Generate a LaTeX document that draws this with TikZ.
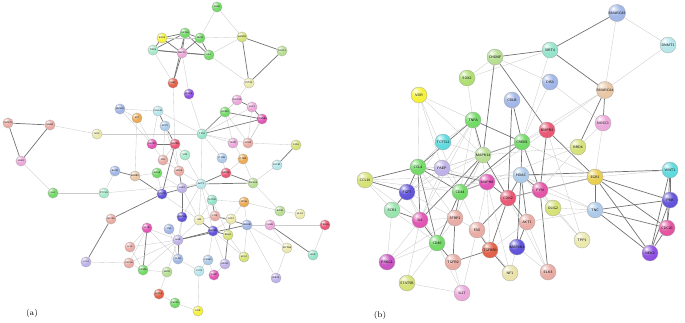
\documentclass[tikz,border=0pt]{standalone}
\usepackage{tikz}
\usetikzlibrary{backgrounds}
\usepackage{xcolor}

\definecolor{cBl}{HTML}{9DB3E6}
\definecolor{cLb}{HTML}{A9C8E8}
\definecolor{cTl}{HTML}{8FE3C8}
\definecolor{cGr}{HTML}{6CD860}
\definecolor{cLg}{HTML}{B4DC8E}
\definecolor{cYl}{HTML}{F4F030}
\definecolor{cYg}{HTML}{D4E070}
\definecolor{cPk}{HTML}{EAA4D8}
\definecolor{cMg}{HTML}{E04CB0}
\definecolor{cRd}{HTML}{E8506E}
\definecolor{cSa}{HTML}{E8A8A0}
\definecolor{cOr}{HTML}{EBA64C}
\definecolor{cTn}{HTML}{E8C4A0}
\definecolor{cPu}{HTML}{8A48E0}
\definecolor{cVb}{HTML}{5A4CD8}
\definecolor{cLv}{HTML}{BCAEE8}
\definecolor{cCy}{HTML}{58D8DC}
\definecolor{cLc}{HTML}{B4E6EA}
\definecolor{cLy}{HTML}{EAE8A8}
\definecolor{cRo}{HTML}{E05A40}
\definecolor{cMt}{HTML}{A4E8C8}
\definecolor{cGo}{HTML}{E8CC48}
\colorlet{ballc}{gray}

% glossy sphere for the protein nodes
\pgfdeclareradialshading[ballc]{glass}{\pgfpoint{-12bp}{14bp}}{%
  color(0bp)=(white); color(6bp)=(ballc!40!white); color(18bp)=(ballc!92!white);
  color(38bp)=(ballc); color(56bp)=(ballc!82!black); color(75bp)=(ballc!65!black)}

\begin{document}
\begin{tikzpicture}[
    x=0.03cm, y=-0.03cm,
    ga/.style={circle, draw=gray!70, line width=0.2pt, /utils/exec={\colorlet{ballc}{#1}}, shading=glass, minimum size=0.31cm, inner sep=0pt, font=\fontsize{2}{2}\selectfont\sffamily},
    gb/.style={circle, draw=gray!70, line width=0.25pt, /utils/exec={\colorlet{ballc}{#1}}, shading=glass, minimum size=0.48cm, inner sep=0pt, font=\fontsize{3}{3}\selectfont\sffamily},
    wk/.style={draw=gray!40, line width=0.3pt},
    md/.style={draw=black!55, line width=0.6pt},
    tag/.style={font=\fontsize{7}{8}\selectfont}
]
\useasboundingbox (0,0) rectangle (685,322);

% Network (a)
\node[ga=cGr] (pax6) at (217,7) {PAX6};
\node[ga=cYl] (sox9) at (162,38) {SOX9};
\node[ga=cGr] (gata4) at (185,33) {GATA4};
\node[ga=cGr] (nkx2) at (200,38) {NKX2};
\node[ga=cYg] (hand2) at (242,37) {HAND2};
\node[ga=cMt] (tbx5) at (153,50) {TBX5};
\node[ga=cPk] (mef2c) at (182,53) {MEF2C};
\node[ga=cGr] (isl1) at (209,55) {ISL1};
\node[ga=cLg] (foxc1) at (282,51) {FOXC1};
\node[ga=cRo] (shh) at (173,83) {SHH};
\node[ga=cLy] (pitx2) at (249,83) {PITX2};
\node[ga=cPu] (bmp4) at (189,94) {BMP4};
\node[ga=cPk] (wnt3a) at (237,100) {WNT3A};
\node[ga=cPk] (lef1) at (252,107) {LEF1};
\node[ga=cGr] (axin2) at (225,112) {AXIN2};
\node[ga=cMg] (ctnnb1) at (262,119) {CTNNB1};
\node[ga=cBl] (runx2) at (120,109) {RUNX2};
\node[ga=cOr] (sp7) at (137,118) {SP7};
\node[ga=cLc] (col1a1) at (158,111) {COL1A1};
\node[ga=cLb] (spp1) at (165,126) {SPP1};
\node[ga=cTl] (tp53) at (202,134) {TP53};
\node[ga=cLy] (nog) at (97,134) {NOG};
\node[ga=cSa] (twist1) at (8,123) {TWIST1};
\node[ga=cSa] (snai2) at (50,125) {SNAI2};
\node[ga=cPk] (zeb1) at (21,161) {ZEB1};
\node[ga=cMg] (mmp2) at (152,144) {MMP2};
\node[ga=cRd] (mmp9) at (175,144) {MMP9};
\node[ga=cPk] (timp1) at (233,143) {TIMP1};
\node[ga=cSa] (cdh2) at (248,143) {CDH2};
\node[ga=cYg] (fgf8) at (296,145) {FGF8};
\node[ga=cMt] (vim) at (185,155) {VIM};
\node[ga=cSa] (fn1) at (163,160) {FN1};
\node[ga=cLb] (itgb1) at (222,158) {ITGB1};
\node[ga=cOr] (pten) at (243,159) {PTEN};
\node[ga=cLc] (fgfr1) at (277,165) {FGFR1};
\node[ga=cBl] (egfr) at (115,171) {EGFR};
\node[ga=cTn] (erbb2) at (135,176) {ERBB2};
\node[ga=cGr] (kras) at (157,173) {KRAS};
\node[ga=cSa] (hras) at (179,171) {HRAS};
\node[ga=cRd] (mdm2) at (226,173) {MDM2};
\node[ga=cGr] (gli1) at (53,193) {GLI1};
\node[ga=cMt] (ptch1) at (104,193) {PTCH1};
\node[ga=cVb] (stat3) at (162,194) {STAT3};
\node[ga=cLv] (jak2) at (182,188) {JAK2};
\node[ga=cLc] (akt2) at (201,184) {AKT2};
\node[ga=cLg] (pik3ca) at (253,183) {PIK3CA};
\node[ga=cTl] (mtor) at (212,200) {MTOR};
\node[ga=cOr] (rps6) at (244,202) {RPS6};
\node[ga=cLg] (eif4e) at (280,211) {EIF4E};
\node[ga=cLy] (ulk1) at (300,214) {ULK1};
\node[ga=cSa] (socs3) at (111,219) {SOCS3};
\node[ga=cVb] (mapk1) at (182,217) {MAPK1};
\node[ga=cLy] (jun) at (199,220) {JUN};
\node[ga=cSa] (fos) at (215,216) {FOS};
\node[ga=cLy] (atf2) at (231,219) {ATF2};
\node[ga=cMg] (il1b) at (147,228) {IL1B};
\node[ga=cBl] (tnf) at (169,229) {TNF};
\node[ga=cVb] (nfkb1) at (213,231) {NFKB1};
\node[ga=cYg] (rela) at (228,235) {RELA};
\node[ga=cBl] (ikbkb) at (247,225) {IKBKB};
\node[ga=cPk] (chuk) at (270,225) {CHUK};
\node[ga=cRd] (traf6) at (325,225) {TRAF6};
\node[ga=cSa] (il10) at (130,247) {IL10};
\node[ga=cLv] (il6r) at (178,240) {IL6R};
\node[ga=cLy] (myd88) at (287,248) {MYD88};
\node[ga=cSa] (cxcl8) at (129,263) {CXCL8};
\node[ga=cLv] (ccl2) at (86,262) {CCL2};
\node[ga=cBl] (tlr4) at (178,259) {TLR4};
\node[ga=cLb] (casp3) at (208,260) {CASP3};
\node[ga=cYg] (bcl2) at (244,257) {BCL2};
\node[ga=cTl] (bax) at (313,255) {BAX};
\node[ga=cGr] (casp8) at (143,270) {CASP8};
\node[ga=cLg] (fadd) at (167,272) {FADD};
\node[ga=cLc] (cycs) at (199,271) {CYCS};
\node[ga=cLv] (apaf1) at (225,264) {APAF1};
\node[ga=cMg] (xiap) at (214,275) {XIAP};
\node[ga=cLv] (birc5) at (276,278) {BIRC5};
\node[ga=cRo] (hif1a) at (159,294) {HIF1A};
\node[ga=cGr] (vegfa) at (175,303) {VEGFA};
\node[ga=cYl] (kdr) at (198,311) {KDR};
\node[tag] (taga) at (32,313) {(a)};

% Network (b)
\node[gb=cBl] (smarca5) at (617,13) {SMARCA5};
\node[gb=cLc] (dnmt1) at (668,45) {DNMT1};
\node[gb=cTl] (sirt4) at (550,50) {SIRT4};
\node[gb=cLg] (chdnf) at (495,57) {CHDNF};
\node[gb=cYg!60!cGr] (sox2) at (467,78) {SOX2};
\node[gb=cBl] (dis3) at (550,82) {DIS3};
\node[gb=cYl] (vdr) at (419,95) {VDR};
\node[gb=cTn] (smarca4) at (605,90) {SMARCA4};
\node[gb=cBl] (cblb) at (512,100) {CBLB};
\node[gb=cGr] (tnfa) at (473,120) {TNFA};
\node[gb=cPk] (nosc1) at (603,123) {NOSC1};
\node[gb=cCy] (tcf7l2) at (443,142) {TCF7L2};
\node[gb=cGr] (creb1) at (522,142) {CREB1};
\node[gb=cRd] (bmpr2) at (547,130) {BMPR2};
\node[gb=cYg] (brd4) at (578,147) {BRD4};
\node[gb=cLg] (mapk14) at (483,155) {MAPK14};
\node[gb=cGr] (ccl4) at (418,167) {CCL4};
\node[gb=cLv] (paep) at (442,168) {PAEP};
\node[gb=cLb] (hdac) at (521,175) {HDAC};
\node[gb=cGo] (egr1) at (595,177) {EGR1};
\node[gb=cCy] (wnt1) at (670,170) {WNT1};
\node[gb=cYg] (ccl19) at (365,180) {CCL19};
\node[gb=cVb] (fgf7) at (407,192) {FGF7};
\node[gb=cMg] (mapk8) at (487,182) {MAPK8};
\node[gb=cGr] (cd44) at (460,192) {CD44};
\node[gb=cMg!80!cRd] (fyn) at (540,190) {FYN};
\node[gb=cRd] (cdk2) at (508,198) {CDK2};
\node[gb=cMt!70!cGr] (scr1) at (392,210) {SCR1};
\node[gb=cMg] (il6) at (420,220) {IL6};
\node[gb=cSa] (sfrp2) at (455,218) {SFRP2};
\node[gb=cYg] (olig2) at (553,208) {OLIG2};
\node[gb=cSa] (akt1) at (527,222) {AKT1};
\node[gb=cLb] (tnc) at (595,210) {TNC};
\node[gb=cVb] (pbk) at (670,200) {PBK};
\node[gb=cSa] (fas) at (477,230) {FAS};
\node[gb=cGr] (cd80) at (437,243) {CD80};
\node[gb=cMg!70!cRd] (cdc20) at (667,228) {CDC20};
\node[gb=cLy] (tpp1) at (582,240) {TPP1};
\node[gb=cRo] (tgfbr1) at (490,250) {TGFBR1};
\node[gb=cVb] (map2k1) at (517,247) {MAP2K1};
\node[gb=cMg!70!cPu] (prkg1) at (387,262) {PRKG1};
\node[gb=cSa] (tgfb2) at (453,262) {TGFB2};
\node[gb=cPu] (nek2) at (650,253) {NEK2};
\node[gb=cLy!80!cTn] (nf1) at (510,273) {NF1};
\node[gb=cSa] (elk3) at (548,272) {ELK3};
\node[gb=cYg] (stat5b) at (407,283) {STAT5B};
\node[gb=cPk] (il27) at (462,293) {IL27};
\node[tag] (tagb) at (380,315) {(b)};

\begin{scope}[on background layer]
% links of (a)
\foreach \u/\v in {sox9/gata4, gata4/nkx2, sox9/tbx5, gata4/tbx5, gata4/mef2c, tbx5/isl1, mef2c/isl1, gata4/isl1, nkx2/isl1, tbx5/mef2c, mef2c/shh, gata4/shh, sox9/mef2c, nkx2/mef2c, hand2/foxc1, hand2/pitx2, foxc1/pitx2, twist1/snai2, twist1/zeb1, snai2/zeb1, egfr/erbb2, erbb2/stat3, stat3/socs3, socs3/ccl2, tp53/axin2, tp53/ctnnb1, lef1/ctnnb1, axin2/ctnnb1, wnt3a/lef1, fgfr1/fgf8, chuk/bax, mmp9/stat3, col1a1/spp1, spp1/mmp9, mmp2/mmp9, hras/jak2, stat3/akt2, akt2/mdm2, mdm2/pik3ca, akt2/pik3ca, jun/nfkb1, nfkb1/rela, atf2/rela, il6r/tlr4, il6r/nfkb1, il1b/casp8, rela/apaf1, mtor/fos, ikbkb/fos, il6r/ikbkb, jak2/mapk1}
  \draw[md] (\u) -- (\v);
\foreach \u/\v in {pax6/nkx2, pax6/hand2, nkx2/hand2, isl1/pitx2, isl1/hand2, shh/mmp9, bmp4/tp53, bmp4/mef2c, pitx2/wnt3a, sox9/nkx2, tbx5/shh, nog/snai2, nog/tp53, zeb1/gli1, gli1/ptch1, ptch1/egfr, ptch1/akt2, runx2/col1a1, runx2/mmp2, sp7/erbb2, sp7/mmp2, col1a1/mmp2, spp1/fn1, mmp2/fn1, mmp9/vim, mmp9/hras, vim/akt2, fn1/hras, hras/akt2, tp53/akt2, tp53/col1a1, tp53/cdh2, cdh2/lef1, cdh2/ctnnb1, timp1/axin2, cdh2/fgf8, timp1/tp53, timp1/pten, itgb1/tp53, pten/pik3ca, mdm2/pten, akt2/mtor, mtor/rps6, rps6/eif4e, eif4e/ulk1, pik3ca/eif4e, pik3ca/fgfr1, il1b/il10, il1b/cxcl8, il1b/il6r, tnf/il6r, il6r/mapk1, il6r/jun, il6r/fadd, il6r/casp8, il6r/il10, il6r/cxcl8, jun/fos, fos/atf2, atf2/nfkb1, nfkb1/apaf1, nfkb1/casp3, rela/bcl2, ikbkb/chuk, ikbkb/birc5, ikbkb/myd88, chuk/traf6, traf6/bax, myd88/birc5, chuk/myd88, casp3/cycs, cycs/kdr, fadd/hif1a, hif1a/vegfa, vegfa/kdr, tlr4/cycs, casp8/fadd, cxcl8/casp8, il10/casp8, casp3/xiap, apaf1/xiap, mtor/jun, rps6/ikbkb, stat3/jun, jak2/jun, mapk1/tlr4, ccl2/cxcl8, kras/stat3, kras/jak2, erbb2/kras, jak2/akt2, akt2/mapk1, akt2/nfkb1, akt2/jun, mtor/rela, rps6/atf2, ikbkb/bcl2, tnf/tlr4, il1b/tlr4, bcl2/nfkb1, wnt3a/axin2, axin2/cdh2, ctnnb1/cdh2, tp53/lef1, tp53/wnt3a, mmp9/fn1, sp7/runx2, spp1/hras, mdm2/itgb1}
  \draw[wk] (\u) -- (\v);
% links of (b)
\foreach \u/\v in {smarca5/sirt4, sirt4/smarca4, sirt4/chdnf, chdnf/bmpr2, chdnf/mapk14, smarca4/nosc1, smarca4/brd4, cblb/creb1, cblb/cdk2, bmpr2/egr1, bmpr2/fyn, egr1/pbk, egr1/cdc20, egr1/nek2, egr1/tnc, tnc/pbk, tnc/cdc20, tnc/nek2, wnt1/pbk, wnt1/cdc20, pbk/cdc20, pbk/nek2, cdc20/nek2, wnt1/nek2, ccl19/fgf7, ccl19/ccl4, fgf7/scr1, fgf7/ccl4, ccl4/il6, ccl4/cd80, il6/scr1, cd80/il6, tnfa/creb1, tnfa/mapk14, creb1/mapk14, creb1/hdac, creb1/fyn, mapk14/cdk2, mapk14/cd44, hdac/cdk2, hdac/fyn, hdac/akt1, fyn/cdk2, fyn/elk3, cdk2/fas, cdk2/tgfbr1, cdk2/akt1, cdk2/mapk8, cd44/mapk8, cd44/sfrp2, cd44/cd80, sfrp2/tgfb2, fas/tgfbr1, tgfbr1/nf1, map2k1/hdac, map2k1/akt1, cd80/tgfb2, tgfb2/tgfbr1, ccl4/cd44, ccl4/mapk8, hdac/wnt1, egr1/fyn, tnfa/ccl4, mapk14/il6, creb1/cd44}
  \draw[md] (\u) -- (\v);
\foreach \u/\v in {smarca5/dnmt1, smarca5/smarca4, dnmt1/smarca4, sirt4/creb1, chdnf/sox2, chdnf/dis3, dis3/nosc1, dis3/creb1, sox2/tnfa, sox2/sirt4, vdr/tnfa, vdr/mapk14, vdr/ccl4, vdr/paep, vdr/cd44, tnfa/tcf7l2, tnfa/paep, tnfa/cd44, smarca4/creb1, smarca4/cd44, nosc1/egr1, brd4/cd44, brd4/mapk14, brd4/fyn, bmpr2/tpp1, creb1/paep, tcf7l2/mapk14, paep/ccl4, paep/fgf7, paep/mapk8, mapk14/paep, mapk14/fgf7, mapk14/sfrp2, fgf7/il6, scr1/ccl19, il6/ccl19, il6/prkg1, il6/stat5b, cd80/stat5b, cd80/prkg1, prkg1/scr1, prkg1/sfrp2, il27/tgfb2, il27/fas, il27/stat5b, il27/cd80, sfrp2/fas, sfrp2/il6, sfrp2/cd80, fas/nf1, nf1/map2k1, elk3/map2k1, elk3/akt1, elk3/cdk2, olig2/tpp1, olig2/fyn, olig2/hdac, tnc/fyn, tnc/olig2, tnc/hdac, tnc/akt1, egr1/hdac, egr1/cdk2, akt1/tgfbr1, fas/mapk8, mapk8/hdac, mapk8/fgf7, ccl19/cd44, fgf7/cd80, fgf7/sfrp2, paep/cd44, tcf7l2/ccl4, tcf7l2/fgf7, creb1/egr1, ccl19/hdac, egr1/wnt1, fyn/tpp1, brd4/nosc1, bmpr2/creb1, mapk8/tgfbr1, mapk8/nf1, cd44/fas, scr1/cd80, paep/il6, ccl4/sfrp2, tnfa/il6, tnfa/mapk8}
  \draw[wk] (\u) -- (\v);
\end{scope}
\end{tikzpicture}
\end{document}
